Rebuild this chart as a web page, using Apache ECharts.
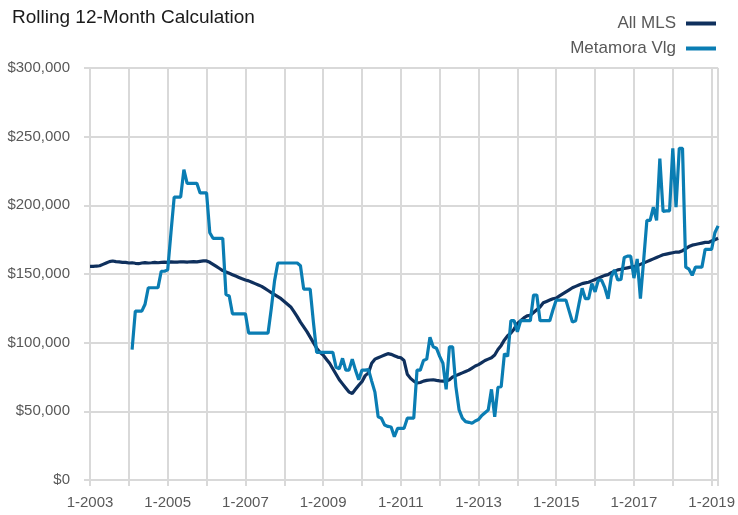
<!DOCTYPE html>
<html>
<head>
<meta charset="utf-8">
<script src="https://cdn.jsdelivr.net/npm/echarts@6/dist/echarts.min.js"></script>
<style>
  html, body { margin: 0; padding: 0; background: #fff; }
  #chart { width: 738px; height: 515px; }
</style>
</head>
<body>
<div id="chart"></div>
<script>
// monthly rolling 12-month values, in $ thousands, 1-2003 .. 3-2019
const firstYear = 2003
const lastYear = 2019
const lastMonth = 3

const allMls = [
  155.5, 155.5, 155.8, 156, 157, 158, 159, 159.5, 159, 158.8, 158.5, 158.5,
  158, 158.2, 157.8, 157.5, 158, 158.3, 158, 158.2, 158.5, 158.2, 158.4, 158.6,
  158.5, 158.8, 158.6, 158.7, 158.9, 158.8, 158.7, 158.9, 159, 158.8, 159.2, 159.5,
  159.5, 158.5, 157, 155.5, 154, 152.5, 151.5, 150.5, 149.5, 148.5, 147.5, 146.5,
  145.6, 145, 144, 143, 142, 141, 139.5, 138, 136.5, 135, 133.5, 132,
  130, 128, 126, 122.6, 119, 115, 111.5, 108, 104, 100, 96, 93,
  91, 88, 85, 81, 77, 73, 70, 67, 64, 63, 66, 69,
  71.6, 76, 78, 85, 88, 89, 90, 91, 92, 91.5, 90.5, 89.5,
  89, 87, 77, 74, 72, 70.6, 71, 72, 72.5, 72.8, 73, 72.5,
  72.2, 72, 72, 73, 75, 76, 77, 78, 79, 80, 81.5, 83,
  84, 85.5, 87, 88, 89, 91, 95, 98, 102, 105, 107, 110,
  114, 116, 118, 119.5, 120, 122, 124, 126, 129, 130, 131, 132,
  132.5, 134, 135.5, 137, 138.5, 140, 141, 142, 143, 143.5, 144, 145,
  146, 147, 148, 149, 149.5, 151, 152, 153, 153.5, 154, 154.5, 155,
  155.5, 156, 157, 158, 159, 160, 161, 162, 163, 164, 164.5, 165,
  165.5, 166, 166, 167, 168.5, 170, 171, 171.5, 172, 172.5, 173, 173,
  174, 175, 176
]

const metamora = [
  null, null, null, null, null, null, null, null, null, null, null, null,
  null, 95, 123, 123, 123, 128, 140, 140, 140, 140, 152, 152,
  153, 180, 206, 206, 206, 226, 216, 216, 216, 216, 209, 209,
  209, 180, 176, 176, 176, 176, 135, 134, 121, 121, 121, 121,
  121, 107, 107, 107, 107, 107, 107, 107, 125, 145, 158, 158,
  158, 158, 158, 158, 158, 156, 139, 139, 139, 115, 93, 93,
  93, 93, 93, 93, 82, 81, 88.6, 80, 80, 88, 80, 73,
  80, 80, 80.5, 72, 64, 46, 45, 40, 39, 38.6, 31.5, 37.6,
  37.6, 37.6, 45, 45, 45, 80, 80, 87, 88, 104, 97, 96,
  90, 85, 66, 97, 97, 68, 51, 45, 42.5, 42, 41.3, 43,
  44, 47, 49, 51, 66, 46, 67.5, 68, 92, 90, 116, 116,
  108, 116, 116, 116, 116, 134.7, 134.7, 116, 116, 116, 116, 124,
  131, 131, 131, 131, 123, 115, 116, 128, 139.6, 132, 132, 143,
  137, 145.6, 145.6, 140, 132, 148, 153, 145.6, 146, 162, 163, 163,
  147, 161, 132, 160, 189, 189, 198.6, 189, 234, 195.6, 196, 196,
  241.5, 198.6, 241.5, 241.5, 155, 153.5, 149, 155, 155, 155, 168, 168,
  168, 180, 185
]

const yTicks = [0, 50000, 100000, 150000, 200000, 250000, 300000]

const months = []
for (let y = firstYear; y <= lastYear; y++) {
  for (let m = 1; m <= 12; m++) {
    if (y === lastYear && m > lastMonth) break
    months.push(m + '-' + y)
  }
}
const lastIdx = months.length - 1

const FONT = "'Liberation Sans', Arial, sans-serif"
const gridColor = '#d9d9d9'
const textColor = '#595959'

const chart = echarts.init(document.getElementById('chart'))
chart.setOption({
  animation: false,
  textStyle: { fontFamily: FONT },
  title: {
    text: 'Rolling 12-Month Calculation',
    left: 7, top: 3,
    textStyle: { fontFamily: FONT, fontSize: 19, fontWeight: 'normal', color: '#1a1a1a' }
  },
  legend: {
    orient: 'vertical',
    right: 17, top: 10,
    align: 'right',
    itemGap: 8,
    itemWidth: 30, itemHeight: 4,
    icon: 'rect',
    textStyle: { fontFamily: FONT, fontSize: 17, color: textColor, padding: [0, 5, 0, 0] },
    data: ['All MLS', 'Metamora Vlg']
  },
  grid: { left: 90, right: 18, top: 68, bottom: 35 },
  xAxis: {
    type: 'category',
    boundaryGap: false,
    data: months,
    axisLine: { show: true, lineStyle: { color: gridColor, width: 2 } },
    axisTick: {
      show: true, length: 6,
      interval: i => i % 12 === 0 || i === lastIdx,
      lineStyle: { color: gridColor, width: 2 }
    },
    axisLabel: {
      interval: i => i % 24 === 0,
      color: textColor, fontSize: 15, margin: 15, fontFamily: FONT
    },
    splitLine: {
      show: true,
      interval: i => i % 12 === 0 || i === lastIdx,
      lineStyle: { color: gridColor, width: 2 }
    }
  },
  yAxis: {
    type: 'value',
    min: yTicks[0], max: yTicks[yTicks.length - 1], interval: 50000,
    axisLine: { show: false },
    axisTick: { show: true, length: 6, lineStyle: { color: gridColor, width: 2 } },
    axisLabel: {
      color: textColor, fontSize: 15, margin: 20, fontFamily: FONT,
      formatter: v => '$' + v.toLocaleString('en-US')
    },
    splitLine: { lineStyle: { color: gridColor, width: 2 } }
  },
  series: [
    {
      name: 'All MLS', type: 'line', showSymbol: false,
      data: allMls.map(v => v * 1000),
      itemStyle: { color: '#0f305d' },
      lineStyle: { color: '#0f305d', width: 3.2 }
    },
    {
      name: 'Metamora Vlg', type: 'line', showSymbol: false,
      data: metamora.map(v => (v == null ? null : v * 1000)),
      itemStyle: { color: '#0a7db3' },
      lineStyle: { color: '#0a7db3', width: 3.2 }
    }
  ]
})
</script>
</body>
</html>
